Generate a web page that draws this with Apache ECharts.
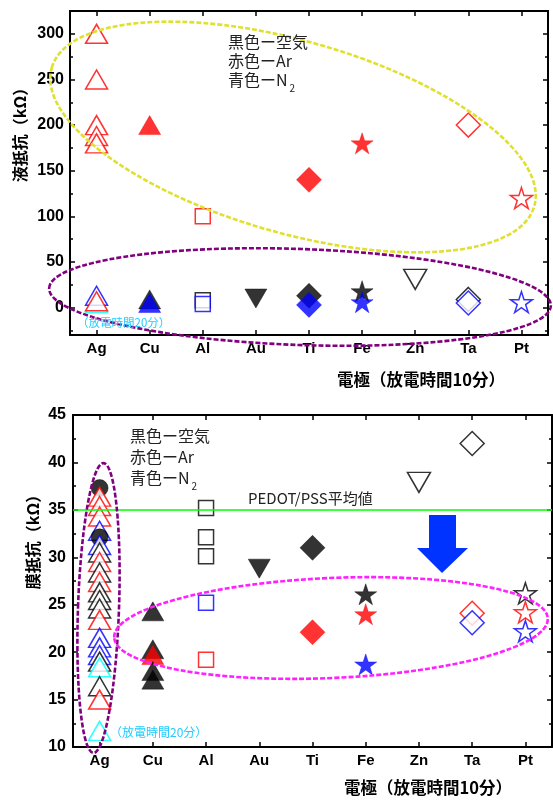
<!DOCTYPE html>
<html>
<head>
<meta charset="utf-8">
<script src="https://cdn.jsdelivr.net/npm/echarts@6/dist/echarts.min.js"></script>
<style>html,body{margin:0;padding:0;background:#fff;}#c{width:553px;height:800px;}</style>
</head>
<body>
<div id="c"></div>
<script>
// ---------- data ----------
const metals = ['Ag','Cu','Al','Au','Ti','Fe','Zn','Ta','Pt'];

// liquid resistance (kΩ), [metal, value]
const liqAir   = [['Cu',9],['Al',8],['Au',10],['Ti',13],['Fe',18],['Zn',31],['Ta',9]];
const liqAr    = [['Ag',300],['Ag',250],['Ag',200],['Ag',188],['Ag',180],['Ag',7],['Cu',200],['Al',100],['Ti',140],['Fe',180],['Ta',200],['Pt',120]];
const liqN2    = [['Ag',13],['Cu',5],['Al',4],['Ti',3],['Fe',6],['Ta',5],['Pt',6]];
const liq20min = [['Ag',5]];
const liqTickValues  = [0,50,100,150,200,250,300];
const liqMinorValues = [-25,25,75,125,175,225,275];

// membrane resistance (kΩ), [metal, value]
const memAir    = [['Ag',30.5],['Ag',28.4],['Ag',26.3],['Ag',25.5],['Ag',24.6],['Ag',19.0],['Ag',16.4],
                   ['Cu',24.3],['Cu',20.3],['Cu',18.0],['Cu',17.1],['Al',35.2],['Al',32.1],['Al',30.1],
                   ['Au',28.8],['Ti',31.0],['Fe',26.1],['Zn',37.9],['Ta',42.0],['Pt',26.2]];
const memAirDot = [['Ag',37.3],['Ag',32.1]];
const memAr     = [['Ag',36.4],['Ag',35.4],['Ag',34.3],['Ag',29.5],['Ag',27.4],['Ag',23.4],['Ag',15.0],
                   ['Cu',19.7],['Al',19.2],['Ti',22.1],['Fe',24.0],['Ta',24.1],['Pt',24.2]];
const memN2     = [['Ag',32.8],['Ag',31.3],['Ag',21.5],['Ag',20.5],['Ag',19.7],['Al',25.2],['Fe',18.7],['Ta',23.1],['Pt',22.2]];
const mem20min  = [['Ag',18.4],['Ag',11.7]];
const pedotAvg  = 35;

// ---------- styles ----------
const STAR = 'path://M50,0L61.2,34.5L97.6,34.5L68.2,55.9L79.4,90.5L50,69.1L20.6,90.5L31.8,55.9L2.4,34.5L38.8,34.5Z';
const metalStyle = {
  Ag:{symbol:'triangle', size:[22,19], rot:0,   filled:false},
  Cu:{symbol:'triangle', size:[22,19], rot:0,   filled:true},
  Al:{symbol:'rect',     size:[15,15], rot:0,   filled:false},
  Au:{symbol:'triangle', size:[22,19], rot:180, filled:true},
  Ti:{symbol:'diamond',  size:[25,25], rot:0,   filled:true},
  Fe:{symbol:STAR,       size:[22,21], rot:0,   filled:true},
  Zn:{symbol:'triangle', size:[23,20], rot:180, filled:false},
  Ta:{symbol:'diamond',  size:[24,24], rot:0,   filled:false},
  Pt:{symbol:STAR,       size:[22,21], rot:0,   filled:false}
};
const COL = {air:'#000000', ar:'#ff0000', n2:'#0000ff', m20:'#00ffff'};

function items(arr, gas, override){
  return arr.map(function(d){
    const s = Object.assign({}, metalStyle[d[0]], override || {});
    const c = COL[gas];
    return {
      value:[d[0], d[1]],
      symbol:s.symbol, symbolSize:s.size, symbolRotate:s.rot, symbolKeepAspect:false,
      itemStyle: s.filled ? {color:c, borderColor:c, borderWidth:0.5}
                          : {color:'#ffffff', borderColor:c, borderWidth:1.5}
    };
  });
}
function byValueDesc(a,b){ return b.value[1]-a.value[1]; }

const topMain = [].concat(items(liqAir,'air'), items(liqAr,'ar'), items(liqN2,'n2')).sort(byValueDesc);
const topFirst = items(liq20min,'m20');
const botMain = [].concat(items(memAir,'air'), items(memAirDot,'air',{symbol:'circle',size:17,filled:true}),
                          items(memAr,'ar'), items(memN2,'n2'), items(mem20min,'m20')).sort(byValueDesc);

// ---------- axes ----------
const LBLX = {color:'#000', fontWeight:'bold', fontSize:15, fontFamily:'Liberation Sans'};
const LBLY = {color:'#000', fontWeight:'bold', fontSize:16, fontFamily:'Liberation Sans'};
const LINE = {show:true, onZero:false, lineStyle:{color:'#000', width:2}};
function xAx(grid, pos, label){
  return {gridIndex:grid, type:'category', data:metals, position:pos, boundaryGap:true,
    axisLine:LINE,
    axisTick:{show:true, inside:true, alignWithLabel:true, length:5, lineStyle:{color:'#000', width:1.5}},
    axisLabel:Object.assign({show:label, margin:6, interval:0}, LBLX),
    splitLine:{show:false}};
}
function yTop(pos, values, len, label){
  return {gridIndex:0, type:'value', min:-30, max:325, position:pos,
    axisLine:LINE,
    axisTick:{show:true, inside:true, length:len, customValues:values, lineStyle:{color:'#000', width:1.5}},
    axisLabel:Object.assign({show:label, margin:6, customValues:values}, LBLY),
    splitLine:{show:false}};
}
function yBot(pos, label){
  return {gridIndex:1, type:'value', min:10, max:45, interval:5, position:pos,
    axisLine:LINE,
    axisTick:{show:true, inside:true, length:5, lineStyle:{color:'#000', width:1.5}},
    minorTick:{show:true, splitNumber:2, length:3, lineStyle:{color:'#000', width:1.5}},
    axisLabel:Object.assign({show:label, margin:7}, LBLY),
    splitLine:{show:false}};
}

const CJK = '"Noto Sans CJK JP", sans-serif';
function txt(x, y, text, font, fill, align, rot){
  return {type:'text', x:x, y:y, rotation:rot||0, silent:true, z:110,
    style:{text:text, font:font, fill:fill, align:align||'left', textAlign:align||'left',
           verticalAlign:'middle', textVerticalAlign:'middle'}};
}
function legend(x, y0, dy){
  const f = '16px ' + CJK;
  return [
    txt(x, y0, '黒色ー空気', f, '#222'),
    txt(x, y0+dy, '赤色ーAr', f, '#222'),
    {type:'text', x:x, y:y0+2*dy, silent:true, z:110,
     style:{text:'{a|青色ーN}{s|2}', fill:'#222', align:'left', verticalAlign:'middle', textVerticalAlign:'middle',
       rich:{a:{font:f, fill:'#222', lineHeight:22, verticalAlign:'middle'},
             s:{font:'10px ' + CJK, fill:'#222', lineHeight:22, verticalAlign:'bottom', padding:[0,0,-2,2]}}}}
  ];
}
function ell(cx, cy, rx, ry, deg, color){
  return {type:'ellipse', x:cx, y:cy, rotation:deg*Math.PI/180, silent:true, z:100,
    shape:{cx:0, cy:0, rx:rx, ry:ry},
    style:{fill:'none', stroke:color, lineWidth:2.6, lineDash:[5,2]}};
}

const chart = echarts.init(document.getElementById('c'), null, {renderer:'canvas'});
chart.setOption({
  animation:false,
  backgroundColor:'#ffffff',
  grid:[
    {left:70, top:11, width:478, height:324},
    {left:73, top:415, width:479, height:332}
  ],
  xAxis:[ xAx(0,'bottom',true), xAx(0,'top',false), xAx(1,'bottom',true), xAx(1,'top',false) ],
  yAxis:[
    yTop('left', liqTickValues, 5, true), yTop('left', liqMinorValues, 3, false),
    yTop('right', liqTickValues, 5, false), yTop('right', liqMinorValues, 3, false),
    yBot('left', true), yBot('right', false)
  ],
  series:[
    {type:'scatter', xAxisIndex:0, yAxisIndex:0, data:topFirst, silent:true, clip:false},
    {type:'scatter', xAxisIndex:0, yAxisIndex:0, data:topMain, silent:true, clip:false},
    {type:'scatter', xAxisIndex:2, yAxisIndex:4, data:botMain, silent:true, clip:false,
     markLine:{silent:true, symbol:'none', label:{show:false}, animation:false,
       lineStyle:{color:'#00ff00', width:1.5, type:'solid'}, data:[{yAxis:pedotAvg}]}}
  ],
  graphic:[].concat(
    legend(228, 42, 19),
    legend(130, 436, 21),
    [
      txt(20, 131, '液抵抗（kΩ）', 'bold 16px ' + CJK, '#000', 'center', Math.PI/2),
      txt(33, 538, '膜抵抗（kΩ）', 'bold 16px ' + CJK, '#000', 'center', Math.PI/2),
      txt(421, 380, '電極（放電時間10分）', 'bold 16.5px ' + CJK, '#000', 'center'),
      txt(428, 788, '電極（放電時間10分）', 'bold 16.5px ' + CJK, '#000', 'center'),
      txt(77, 323, '（放電時間20分）', '11.5px ' + CJK, '#22ccff', 'left'),
      txt(110, 732, '（放電時間20分）', '12px ' + CJK, '#22ccff', 'left'),
      txt(248, 498, 'PEDOT/PSS平均値', '15px ' + CJK, '#222', 'left'),
      {type:'polygon', silent:true, z:90,
       shape:{points:[[429,515],[456,515],[456,548],[468,548],[442,573],[417,548],[429,548]]},
       style:{fill:'#0033ff'}},
      ell(293, 137, 251, 96, -16, '#e0e030'),
      ell(300, 297, 251, 48, -2, '#800080'),
      ell(98.5, 608, 20.5, 145, -2, '#800080'),
      ell(331, 628, 217, 50, 2.5, '#ff22ff')
    ]
  )
});
</script>
</body>
</html>
